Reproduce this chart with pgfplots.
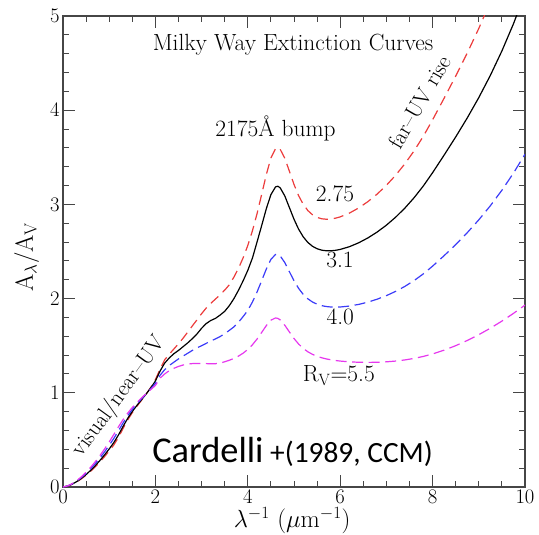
\documentclass[border=0pt]{standalone}
\usepackage{fontspec}
\newfontfamily\carlito{Carlito}
\usepackage{pgfplots}
\usepackage{pgfplotstable}
\pgfplotsset{compat=1.18}
\definecolor{cred}{RGB}{236,60,60}
\definecolor{cblue}{RGB}{60,60,248}
\definecolor{cmag}{RGB}{230,55,238}
\definecolor{axgray}{RGB}{70,70,70}

\pgfplotstableread{
x y
0 0
0.1 0.00939
0.2 0.02865
0.3 0.05503
0.4 0.08746
0.5 0.12526
0.6 0.16800
0.7 0.21532
0.8 0.26696
0.9 0.32271
1.0 0.38236
1.1 0.44616
1.2 0.52644
1.3 0.62199
1.4 0.71169
1.5 0.78938
1.6 0.85721
1.7 0.92090
1.8 0.98631
1.9 1.05750
2.0 1.140
2.1 1.250
2.2 1.350
2.3 1.410
2.4 1.465
2.5 1.520
2.6 1.580
2.7 1.645
2.8 1.710
2.9 1.775
3.0 1.840
3.1 1.900
3.2 1.950
3.3 1.995
3.4 2.040
3.5 2.090
3.6 2.14633
3.7 2.22879
3.8 2.32349
3.9 2.43402
4.0 2.56464
4.1 2.71966
4.2 2.90140
4.3 3.10576
4.4 3.31500
4.5 3.49248
4.6 3.59177
4.65 3.60203
4.7 3.58593
4.8 3.49102
4.9 3.35230
5.0 3.21184
5.1 3.09237
5.2 3.00048
5.3 2.93445
5.4 2.88986
5.5 2.86212
5.6 2.84735
5.7 2.84251
5.8 2.84529
5.9 2.85396
6.0 2.86759
6.2 2.90772
6.4 2.96229
6.6 3.02975
6.8 3.10979
7.0 3.20278
7.2 3.30955
7.4 3.43116
7.6 3.56888
7.8 3.72405
8.0 3.89811
8.25 4.12796
8.5 4.36223
8.75 4.60690
9.0 4.86818
9.25 5.15223
9.5 5.46527
9.75 5.81346
10.0 6.20300
}\rvtwo

\pgfplotstableread{
x y
0 0
0.1 0.00992
0.2 0.03027
0.3 0.05815
0.4 0.09241
0.5 0.13235
0.6 0.17750
0.7 0.22750
0.8 0.28207
0.9 0.34097
1.0 0.40400
1.1 0.47131
1.2 0.55181
1.3 0.64301
1.4 0.72795
1.5 0.80176
1.6 0.86639
1.7 0.92663
1.8 0.98743
1.9 1.05224
2.0 1.125
2.1 1.230
2.2 1.315
2.3 1.370
2.4 1.415
2.5 1.450
2.6 1.490
2.7 1.530
2.8 1.575
2.9 1.625
3.0 1.685
3.1 1.735
3.2 1.768
3.3 1.790
3.4 1.825
3.5 1.865
3.6 1.925
3.7 2.000
3.8 2.090
3.9 2.190
4.0 2.300
4.1 2.430
4.2 2.60089
4.3 2.77493
4.4 2.95318
4.5 3.10368
4.6 3.18599
4.65 3.19286
4.7 3.17685
4.8 3.09062
4.9 2.96699
5.0 2.84253
5.1 2.73676
5.2 2.65512
5.3 2.59595
5.4 2.55529
5.5 2.52916
5.6 2.51415
5.7 2.50765
5.8 2.50767
5.9 2.51272
6.0 2.52195
6.2 2.55118
6.4 2.59239
6.6 2.64428
6.8 2.70658
7.0 2.77963
7.2 2.86412
7.4 2.96098
7.6 3.07126
7.8 3.19615
8.0 3.33686
8.25 3.52387
8.5 3.71600
8.75 3.91781
9.0 4.13406
9.25 4.36949
9.5 4.62886
9.75 4.91690
10.0 5.23836
}\rvthree

\pgfplotstableread{
x y
0 0
0.1 0.01086
0.2 0.03314
0.3 0.06365
0.4 0.10115
0.5 0.14488
0.6 0.19431
0.7 0.24904
0.8 0.30877
0.9 0.37325
1.0 0.44225
1.1 0.51576
1.2 0.59667
1.3 0.68018
1.4 0.75667
1.5 0.82365
1.6 0.88261
1.7 0.93677
1.8 0.98942
1.9 1.04295
2.0 1.100
2.1 1.185
2.2 1.245
2.3 1.290
2.4 1.325
2.5 1.360
2.6 1.390
2.7 1.420
2.8 1.450
2.9 1.477
3.0 1.500
3.1 1.525
3.2 1.550
3.3 1.572
3.4 1.597
3.5 1.627
3.6 1.663
3.7 1.700
3.8 1.750
3.9 1.810
4.0 1.87455
4.1 1.96359
4.2 2.06962
4.3 2.19008
4.4 2.31354
4.5 2.41634
4.6 2.46863
4.65 2.46951
4.7 2.45365
4.8 2.38277
4.9 2.28582
5.0 2.18965
5.1 2.10808
5.2 2.04457
5.3 1.99752
5.4 1.96384
5.5 1.94053
5.6 1.92511
5.7 1.91567
5.8 1.91080
5.9 1.90944
6.0 1.91092
6.2 1.92085
6.4 1.93845
6.6 1.96281
6.8 1.99377
7.0 2.03155
7.2 2.07666
7.4 2.12974
7.6 2.19155
7.8 2.26290
8.0 2.34466
8.25 2.45593
8.5 2.57356
8.75 2.69960
9.0 2.83625
9.25 2.98571
9.5 3.15019
9.75 3.33189
10.0 3.53300
}\rvfour

\pgfplotstableread{
x y
0 0
0.1 0.01174
0.2 0.03583
0.3 0.06883
0.4 0.10937
0.5 0.15665
0.6 0.21010
0.7 0.26928
0.8 0.33386
0.9 0.40358
1.0 0.47818
1.1 0.55753
1.2 0.63881
1.3 0.71510
1.4 0.78366
1.5 0.84422
1.6 0.89785
1.7 0.94629
1.8 0.99128
1.9 1.03422
2.0 1.078
2.1 1.155
2.2 1.200
2.3 1.235
2.4 1.260
2.5 1.280
2.6 1.295
2.7 1.305
2.8 1.310
2.9 1.312
3.0 1.312
3.1 1.310
3.2 1.308
3.3 1.309
3.4 1.31593
3.5 1.32923
3.6 1.34537
3.7 1.36523
3.8 1.38998
3.9 1.42113
4.0 1.46049
4.1 1.50994
4.2 1.57056
4.3 1.64067
4.4 1.71267
4.5 1.77066
4.6 1.79475
4.65 1.79000
4.7 1.77428
4.8 1.71782
4.9 1.64594
5.0 1.57634
5.1 1.51751
5.2 1.47103
5.3 1.43536
5.4 1.40823
5.5 1.38757
5.6 1.37176
5.7 1.35956
5.8 1.35011
5.9 1.34273
6.0 1.33692
6.2 1.32873
6.4 1.32415
6.6 1.32265
6.8 1.32415
7.0 1.32881
7.2 1.33692
7.4 1.34889
7.6 1.36515
7.8 1.38622
8.0 1.41259
8.25 1.45271
8.5 1.50036
8.75 1.55522
9.0 1.61709
9.25 1.68579
9.5 1.76114
9.75 1.84294
10.0 1.93100
}\rvfive

\begin{document}
\begin{tikzpicture}
\useasboundingbox (-63bp,-48bp) rectangle (476bp,487bp);
\begin{axis}[
  at={(0,0)}, anchor=south west,
  scale only axis, width=462bp, height=471bp,
  xmin=0, xmax=10, ymin=0, ymax=5,
  xtick={0,2,...,10}, ytick={0,1,...,5},
  minor x tick num=3, minor y tick num=4,
  tick align=inside,
  major tick length=12.5bp, minor tick length=6.5bp,
  axis line style={axgray, line width=1.3bp},
  every tick/.style={axgray, line width=1bp},
  ticklabel style={font=\fontsize{22}{24}\selectfont},
  label style={font=\fontsize{25}{28}\selectfont},
  xlabel={$\lambda^{-1}$ ($\mu$m$^{-1}$)},
  ylabel={A$_\lambda$/A$_\mathrm{V}$},
  xlabel style={at={(axis description cs:0.496,-0.085)}, anchor=base},
  ylabel style={at={(axis description cs:-0.065,0.488)}, anchor=base},
  every axis plot/.append style={line width=1.2bp},
  clip=true,
]
\addplot[cred, dash pattern=on 10bp off 6bp] table[x=x,y=y] {\rvtwo};
\addplot[black] table[x=x,y=y] {\rvthree};
\addplot[cblue, dash pattern=on 11bp off 5.5bp] table[x=x,y=y] {\rvfour};
\addplot[cmag, dash pattern=on 11bp off 5.5bp] table[x=x,y=y] {\rvfive};

\tikzset{ann/.style={font=\fontsize{23.5}{26}\selectfont, anchor=base, inner sep=0pt}}
\node[ann] at (axis cs:4.98,4.639) {Milky Way Extinction Curves};
\node[ann] at (axis cs:4.60,3.726) {2175\AA\ bump};
\node[ann] at (axis cs:5.887,3.029) {2.75};
\node[ann] at (axis cs:5.996,2.335) {3.1};
\node[ann] at (axis cs:6.0,1.72) {4.0};
\node[ann] at (axis cs:5.97,1.118) {R$_\mathrm{V}$=5.5};
\node[ann, font=\fontsize{22.5}{25}\selectfont, rotate=60] at (axis cs:7.866,4.046) {far--UV rise};
\node[ann, font=\fontsize{22.5}{25}\selectfont, rotate=54] at (axis cs:1.316,0.924) {visual/near--UV};
\node[anchor=base west, inner sep=0pt] at (axis cs:1.93,0.265) {{\carlito\fontsize{36.5}{40}\selectfont Cardelli}{\carlito\fontsize{29.5}{32}\selectfont\ +(1989, CCM)}};
\end{axis}
\end{tikzpicture}
\end{document}
